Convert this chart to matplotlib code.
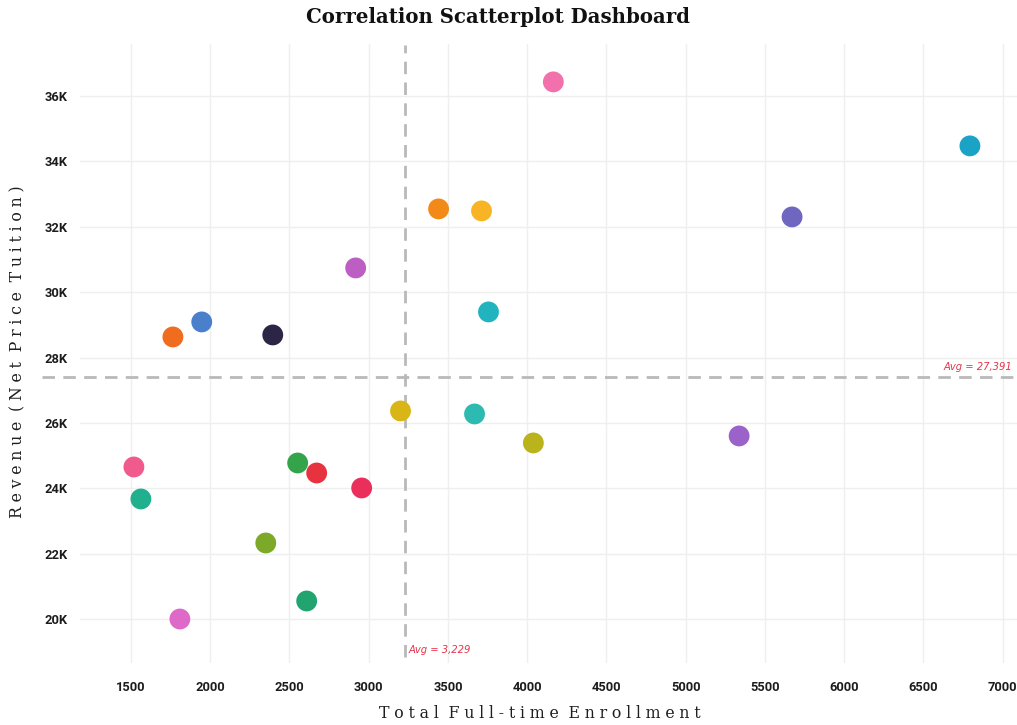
import matplotlib
matplotlib.use("Agg")
import matplotlib.pyplot as plt
from matplotlib import font_manager
from matplotlib.ticker import FuncFormatter
import matplotlib.transforms as mtransforms

# Enrollment (x) and net price tuition revenue (y) per institution
enrollment = [4165, 6793, 5671, 3441, 3712, 2918, 3756, 1947, 1765, 2395, 3201,
              3668, 4039, 5337, 1519, 1563, 2552, 2672, 2956, 2351, 2609, 1809]
revenue = [36432, 34474, 32301, 32546, 32485, 30740, 29394, 29088, 28629, 28690, 26365,
           26273, 25386, 25600, 24651, 23672, 24773, 24467, 24009, 22326, 20551, 20000]
colors = ["#F270AC", "#1BA3C6", "#6F66C0", "#F28A1A", "#F8B424", "#BC5EC2", "#22B4BE",
          "#4A7FCB", "#F06C1E", "#2D2546", "#D9B516", "#2DBAB0", "#BBB31C", "#9B63CA",
          "#F15A8C", "#20B08E", "#34A44A", "#E7333F", "#EA2F5C", "#7CA928", "#21A470",
          "#DE69C8"]

avg_enrollment = 3229
avg_revenue = 27391

x_ticks = [1500, 2000, 2500, 3000, 3500, 4000, 4500, 5000, 5500, 6000, 6500, 7000]
y_ticks = [20000, 22000, 24000, 26000, 28000, 30000, 32000, 34000, 36000]


def pick_font(candidates):
    for name in candidates:
        try:
            font_manager.findfont(name, fallback_to_default=False)
            return name
        except Exception:
            continue
    return "DejaVu Sans"


tick_font = pick_font(["Liberation Sans Narrow", "Roboto", "DejaVu Sans"])


def spaced(text):
    gap = "\u2009\u200a"
    return (" " + gap).join(gap.join(word) for word in text.split(" "))


W, H = 1017, 725
fig = plt.figure(figsize=(W / 100, H / 100), dpi=100)
fig.patch.set_facecolor("white")

left, right, top, bottom = 80, 1017, 44, 663
ax = fig.add_axes([left / W, 1 - bottom / H, (right - left) / W, (bottom - top) / H])
ax.set_facecolor("white")

ax.set_xlim(1179, 7090)
ax.set_ylim(18654, 37591)

ax.set_xticks(x_ticks)
ax.set_yticks(y_ticks)
ax.yaxis.set_major_formatter(FuncFormatter(lambda v, p: f"{int(v / 1000)}K"))
ax.grid(True, color="#efefef", linewidth=1.0)
ax.set_axisbelow(True)
for s in ax.spines.values():
    s.set_visible(False)
ax.tick_params(length=0, labelsize=9.3, labelcolor="#1c1c1c")
ax.tick_params(axis="x", pad=13)
ax.tick_params(axis="y", pad=9)
for lab in ax.get_xticklabels() + ax.get_yticklabels():
    lab.set_fontfamily(tick_font)
    lab.set_fontweight("bold")

# Average reference lines
dash = (4.5, 3)
ax.plot([avg_enrollment, avg_enrollment], [18830, 37560], color="#b9b9b9",
        linewidth=2.0, dashes=dash, zorder=1)
blend = mtransforms.blended_transform_factory(ax.transAxes, ax.transData)
ax.plot([(42 - left) / (right - left), 1.0], [avg_revenue, avg_revenue], color="#b9b9b9",
        linewidth=2.0, dashes=dash, transform=blend, clip_on=False, zorder=1)

ax.scatter(enrollment, revenue, s=225, c=colors, edgecolors="none", zorder=3)

ax.text(0.995, avg_revenue + 180, f"Avg = {avg_revenue:,}", transform=blend,
        color="#E8334A", fontsize=7.2, fontstyle="italic", ha="right", va="bottom")
ax.text(avg_enrollment + 25, 18900, f"Avg = {avg_enrollment:,}", color="#E8334A",
        fontsize=7.2, fontstyle="italic", ha="left", va="bottom")

fig.text(498 / W, 1 - 17 / H, "Correlation Scatterplot Dashboard", ha="center",
         va="center", fontsize=14.2, fontweight="bold", family="DejaVu Serif",
         color="#111111")
fig.text(540 / W, 1 - 714 / H, spaced("Total Full-time Enrollment"), ha="center",
         va="center", fontsize=11.3, family="DejaVu Serif", color="#1e1e1e")
fig.text(18 / W, 1 - 352 / H, spaced("Revenue (Net Price Tuition)"), ha="center",
         va="center", rotation=90, fontsize=11.3, family="DejaVu Serif", color="#1e1e1e")

fig.savefig("out.png", dpi=100, facecolor="white")
